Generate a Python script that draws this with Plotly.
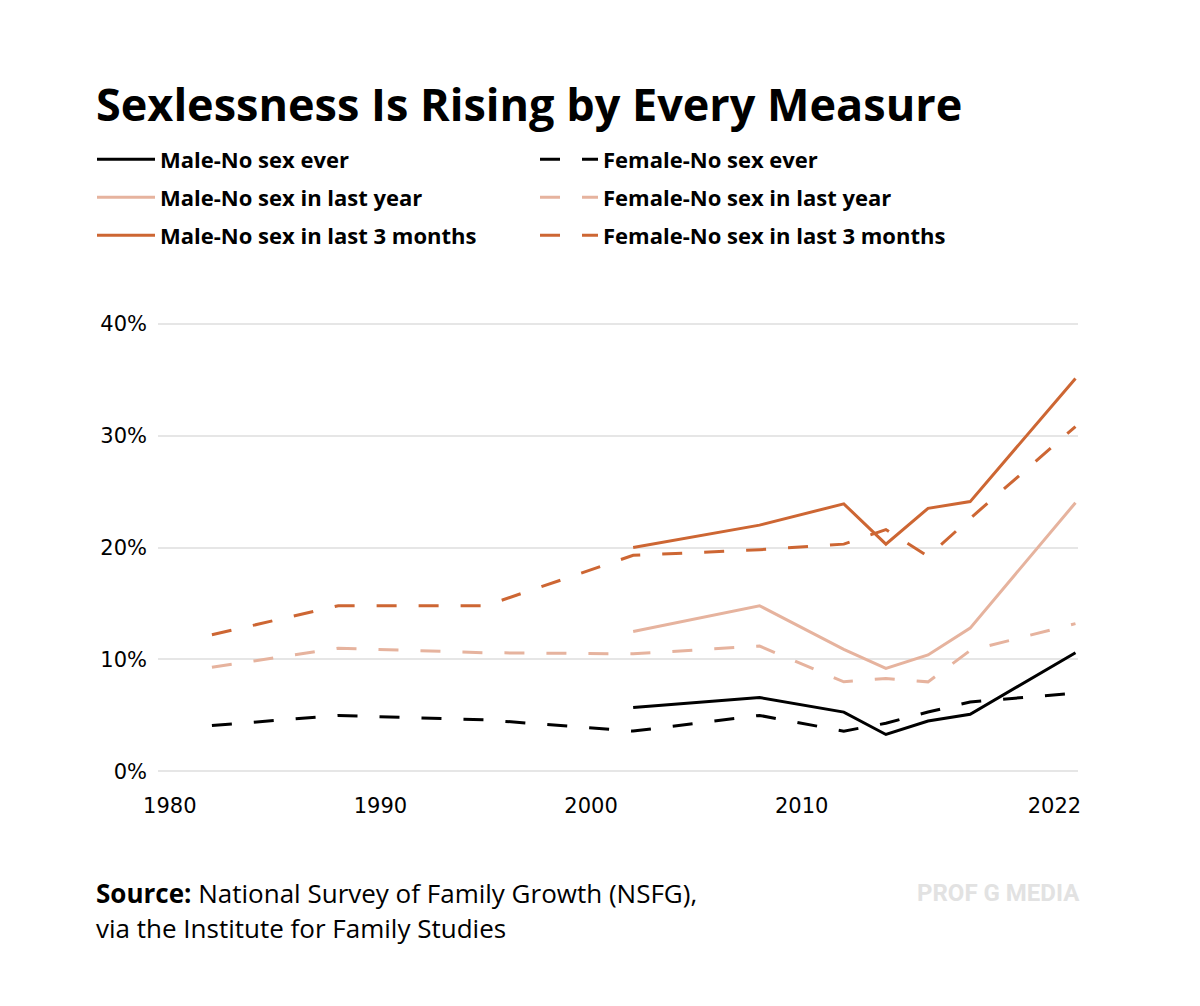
import plotly.graph_objects as go

# ---- data ----
years_f = [1982, 1988, 1995, 2002, 2008, 2012, 2014, 2016, 2018, 2023]
years_m = [2002, 2008, 2012, 2014, 2016, 2018, 2023]

male_ever = [5.7, 6.6, 5.3, 3.3, 4.5, 5.1, 10.6]
male_year = [12.5, 14.8, 10.9, 9.2, 10.4, 12.8, 24.0]
male_3mo = [20.0, 22.0, 23.9, 20.3, 23.5, 24.1, 35.1]

female_ever = [4.1, 5.0, 4.6, 3.6, 5.0, 3.6, 4.3, 5.3, 6.2, 7.0]
female_year = [9.3, 11.0, 10.6, 10.5, 11.2, 8.0, 8.3, 8.0, 10.8, 13.2]
female_3mo = [12.2, 14.8, 14.8, 19.3, 19.8, 20.3, 21.6, 19.2, 22.6, 30.8]

x_tickvals = [1980, 1990, 2000, 2010, 2022]
x_ticktext = ["1980", "1990", "2000", "2010", "2022"]
y_tickvals = [0, 10, 20, 30, 40]
y_ticktext = ["0%", "10%", "20%", "30%", "40%"]

BLACK = "#000000"
LIGHT = "#E6B39E"
DARK = "#CD6633"
DASH = "20px,22px"

fig = go.Figure()
series = [
    ("Male-No sex ever", years_m, male_ever, BLACK, "solid", "legend"),
    ("Female-No sex ever", years_f, female_ever, BLACK, DASH, "legend"),
    ("Male-No sex in last year", years_m, male_year, LIGHT, "solid", "legend2"),
    ("Female-No sex in last year", years_f, female_year, LIGHT, DASH, "legend2"),
    ("Male-No sex in last 3 months", years_m, male_3mo, DARK, "solid", "legend3"),
    ("Female-No sex in last 3 months", years_f, female_3mo, DARK, DASH, "legend3"),
]
for name, xs, ys, col, dash, lg in series:
    fig.add_trace(go.Scatter(x=xs, y=ys, name=name, mode="lines", legend=lg,
                             line=dict(color=col, width=3, dash=dash)))

W, H = 1200, 1006
L, R, T, B = 150, 130, 310.4, 236.9
pw, ph = W - L - R, H - T - B

def px_x(p):
    return (p - L) / pw

def px_y(p):
    return (H - B - p) / ph

def legend_row(yc):
    return dict(orientation="h", x=px_x(84), xanchor="left", y=px_y(yc), yanchor="middle",
                entrywidth=370, entrywidthmode="pixels", traceorder="normal",
                font=dict(family="Open Sans", size=22, color="black", weight="bold"),
                itemwidth=58, bgcolor="rgba(0,0,0,0)")

fig.update_layout(
    width=W, height=H,
    margin=dict(l=L, r=R, t=T, b=B, pad=0),
    paper_bgcolor="white", plot_bgcolor="white",
    font=dict(family="DejaVu Sans", color="black"),
    title=dict(text="<b>Sexlessness Is Rising by Every Measure</b>",
               x=88 / W, xanchor="left", xref="container",
               y=1 - 97 / H, yanchor="middle", yref="container",
               font=dict(family="Open Sans", size=45, color="black")),
    xaxis=dict(range=[1979.44, 2023.12], tickvals=x_tickvals, ticktext=x_ticktext,
               showgrid=False, zeroline=False, showline=False, ticks="",
               ticklabelstandoff=14, tickfont=dict(size=21, family="DejaVu Sans")),
    yaxis=dict(range=[-0.5, 40.5], tickvals=y_tickvals, ticktext=y_ticktext,
               showgrid=True, gridcolor="#E6E6E6", gridwidth=1.5, zeroline=False,
               showline=False, ticks="", ticklabelstandoff=10,
               tickfont=dict(size=21, family="DejaVu Sans")),
    legend=legend_row(152),
    legend2=legend_row(190),
    legend3=legend_row(228),
    showlegend=True,
)

fig.add_annotation(text="<b>Source:</b> National Survey of Family Growth (NSFG),",
                   xref="paper", yref="paper", x=px_x(86), y=px_y(885),
                   xanchor="left", yanchor="middle", showarrow=False,
                   font=dict(family="Open Sans", size=26, color="black"))
fig.add_annotation(text="via the Institute for Family Studies",
                   xref="paper", yref="paper", x=px_x(86), y=px_y(920),
                   xanchor="left", yanchor="middle", showarrow=False,
                   font=dict(family="Open Sans", size=26, color="black"))
fig.add_annotation(text="<b>PROF G MEDIA</b>",
                   xref="paper", yref="paper", x=px_x(1074), y=px_y(885),
                   xanchor="right", yanchor="middle", showarrow=False,
                   font=dict(family="Roboto", size=24, color="#E2E2E2"))

fig.write_html("out.html")
